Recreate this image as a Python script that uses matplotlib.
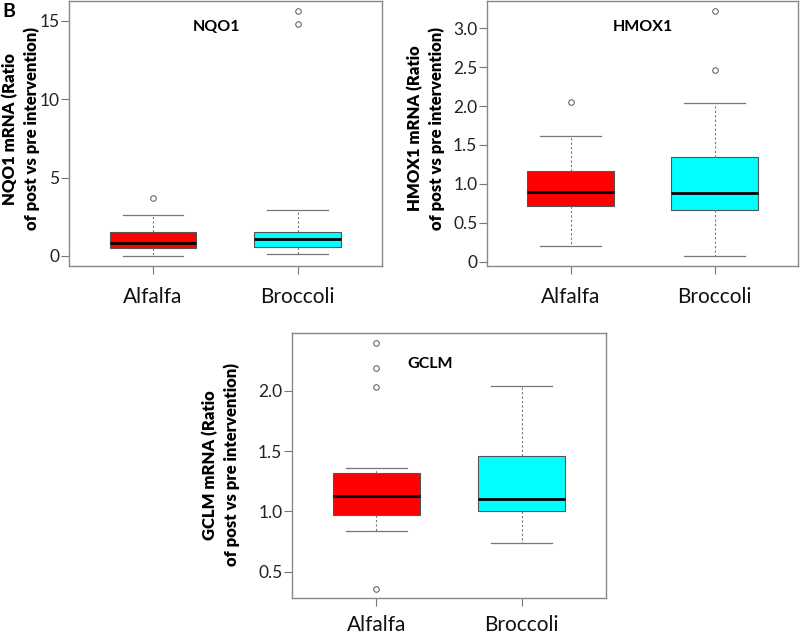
import matplotlib.pyplot as plt

plt.rcParams['font.family'] = ['Lato', 'DejaVu Sans']

groups = ['Alfalfa', 'Broccoli']
colors = ['#ff0000', '#00ffff']

# summary stats: whisker low, Q1, median, Q3, whisker high, outliers
nqo1_low = [0.0, 0.13]
nqo1_q1 = [0.51, 0.55]
nqo1_med = [0.85, 1.08]
nqo1_q3 = [1.50, 1.55]
nqo1_high = [2.59, 2.92]
nqo1_out = [[3.69], [14.81, 15.64]]

hmox1_low = [0.20, 0.07]
hmox1_q1 = [0.71, 0.67]
hmox1_med = [0.89, 0.885]
hmox1_q3 = [1.17, 1.34]
hmox1_high = [1.61, 2.04]
hmox1_out = [[2.05], [2.47, 3.22]]

gclm_low = [0.84, 0.735]
gclm_q1 = [0.97, 1.005]
gclm_med = [1.124, 1.105]
gclm_q3 = [1.318, 1.461]
gclm_high = [1.356, 2.036]
gclm_out = [[0.36, 2.03, 2.185, 2.395], []]


def make_stats(low, q1, med, q3, high, out):
    return [dict(whislo=low[i], q1=q1[i], med=med[i], q3=q3[i], whishi=high[i],
                 fliers=out[i], label=groups[i]) for i in range(len(groups))]


def panel(rect, stats, title, title_x, title_y, ylabel, label_xy, ylim, yticks,
          yticklabels, xpad):
    ax = fig.add_axes(rect)
    bp = ax.bxp(stats, positions=[1, 2], widths=0.6, patch_artist=True,
                capwidths=0.42,
                boxprops=dict(edgecolor='#555555', linewidth=0.8),
                medianprops=dict(color='black', linewidth=2),
                whiskerprops=dict(color='#777777', linewidth=0.8, linestyle=(0, (2, 2))),
                capprops=dict(color='#777777', linewidth=0.9),
                flierprops=dict(marker='o', markersize=4, markerfacecolor='none',
                                markeredgecolor='#555555', markeredgewidth=0.7))
    for patch, c in zip(bp['boxes'], colors):
        patch.set_facecolor(c)
    ax.set_xlim(0.42, 2.58)
    ax.set_ylim(*ylim)
    ax.set_yticks(yticks)
    ax.set_yticklabels(yticklabels, fontsize=12.5, color='#222222')
    ax.set_xticks([1, 2])
    ax.set_xticklabels(groups, fontsize=15, color='#111111')
    ax.tick_params(axis='y', length=6, pad=1, color='#777777')
    ax.tick_params(axis='x', length=6, pad=xpad, color='#777777')
    for s in ax.spines.values():
        s.set_color('#888888')
        s.set_linewidth(1.0)
    ax.text(title_x, title_y, title, transform=ax.transAxes, ha='center', va='center',
            fontsize=11.5, fontweight='bold')
    # y label placed in figure pixels, as in the reference
    fig.text(label_xy[0] / 800, 1 - label_xy[1] / 637, ylabel, rotation=90,
             ha='center', va='center', fontsize=12, fontweight='heavy',
             linespacing=1.4, multialignment='center')
    return ax


fig = plt.figure(figsize=(8, 6.37), dpi=100)

panel([0.08625, 0.5824, 0.391, 0.4166],
      make_stats(nqo1_low, nqo1_q1, nqo1_med, nqo1_q3, nqo1_high, nqo1_out),
      'NQO1', 0.47, 0.9, 'NQO1 mRNA (Ratio\nof post vs pre intervention)', (21, 129),
      (-0.64, 16.27), [0, 5, 10, 15], ['0', '5', '10', '15'], 9)

panel([0.60875, 0.5824, 0.389, 0.4166],
      make_stats(hmox1_low, hmox1_q1, hmox1_med, hmox1_q3, hmox1_high, hmox1_out),
      'HMOX1', 0.5, 0.9, 'HMOX1 mRNA (Ratio\nof post vs pre intervention)', (426, 128),
      (-0.055, 3.355), [0, 0.5, 1.0, 1.5, 2.0, 2.5, 3.0],
      ['0', '0.5', '1.0', '1.5', '2.0', '2.5', '3.0'], 9)

panel([0.365, 0.0612, 0.3925, 0.416],
      make_stats(gclm_low, gclm_q1, gclm_med, gclm_q3, gclm_high, gclm_out),
      'GCLM', 0.44, 0.883, 'GCLM mRNA (Ratio\nof post vs pre intervention)', (221, 465),
      (0.282, 2.478), [0.5, 1.0, 1.5, 2.0], ['0.5', '1.0', '1.5', '2.0'], 6)

fig.text(0.003, 0.995, 'B', fontsize=14, fontweight='bold', ha='left', va='top')

fig.savefig('out.png', dpi=100, facecolor='white')
